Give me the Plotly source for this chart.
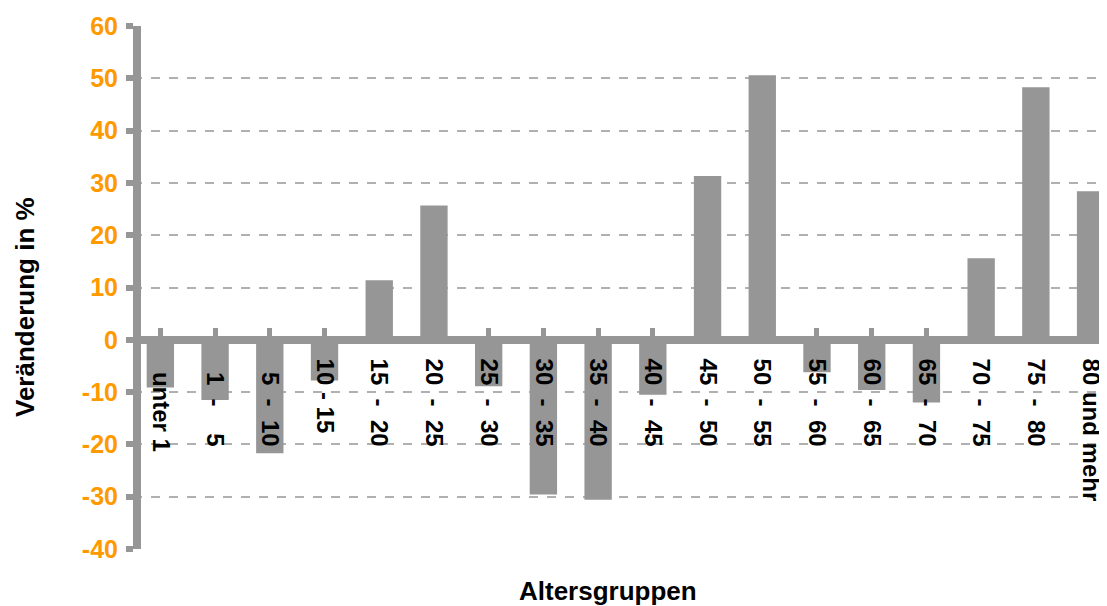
import plotly.graph_objects as go

categories = ["  unter 1", "  1  -    5", "  5  -  10", "10 - 15", "15  -  20", "20  -  25",
              "25  -  30", "30  -  35", "35  -  40", "40  -  45", "45  -  50", "50  -  55",
              "55  -  60", "60  -  65", "65  -  70", "70  -  75", "75  -  80", "80 und mehr"]
values = [-9.1, -11.5, -21.7, -7.8, 11.4, 25.7,
          -8.9, -29.6, -30.6, -10.5, 31.3, 50.6,
          -6.2, -9.6, -12.0, 15.6, 48.3, 28.4]
y_ticks = [-40, -30, -20, -10, 0, 10, 20, 30, 40, 50, 60]
y_ticktext = ["-40", "-30", "-20", "-10", "0", "10", "20", "30", "40", "50", "60"]
x_title = "Altersgruppen"
y_title = "Veränderung in %"

GRAY = "#969696"
ORANGE = "#FF9900"
FONT = "Liberation Sans"

# page body has an 8px default margin; lay out in reference pixels minus that
OFF = 8
W, H = 1107 - OFF, 606 - OFF
L, T = 133 - OFF, 26 - OFF
PH = 523
B = H - T - PH

cats_nbsp = [c.replace(" ", "\u00a0") for c in categories]

fig = go.Figure()
fig.add_trace(go.Bar(x=list(range(len(categories))), y=values,
                     marker=dict(color=GRAY, line=dict(width=0)),
                     width=0.5, showlegend=False))

ymin, ymax = y_ticks[0], y_ticks[-1]
zero_pos = (0 - ymin) / (ymax - ymin)

def px_to_paper_y(py):
    return 1 - (py - OFF - T) / PH

def px_to_paper_x(px):
    return (px - OFF - L) / (W - L)

fig.update_layout(
    width=W, height=H,
    margin=dict(l=L, r=0, t=T, b=B),
    paper_bgcolor="white", plot_bgcolor="white",
    font=dict(family=FONT, size=24, color="black"),
    xaxis=dict(
        range=[-0.5, 17.3],
        tickmode="array",
        tickvals=list(range(len(categories))),
        ticktext=cats_nbsp,
        tickangle=90,
        tickfont=dict(family=FONT, size=24, color="black", weight="bold"),
        anchor="free", position=zero_pos,
        showline=True, linecolor=GRAY, linewidth=8,
        ticks="inside", ticklen=8, tickwidth=5, tickcolor=GRAY,
        tickson="boundaries",
        showgrid=False, zeroline=False,
        ticklabelstandoff=10,
        automargin=False,
    ),
    yaxis=dict(
        range=[ymin, ymax],
        tickmode="array", tickvals=y_ticks, ticktext=y_ticktext,
        tickfont=dict(family=FONT, size=25, color=ORANGE, weight="bold"),
        anchor="free", position=4 / (W - L),
        showline=True, linecolor=GRAY, linewidth=8,
        ticks="outside", ticklen=7, tickwidth=6, tickcolor=GRAY,
        ticklabelstandoff=3,
        showgrid=True, gridcolor="#b0b0b0", griddash="dash", gridwidth=1.5,
        zeroline=False,
        automargin=False,
    ),
    annotations=[
        dict(text=x_title, xref="paper", yref="paper",
             x=px_to_paper_x(608), y=px_to_paper_y(591),
             xanchor="center", yanchor="middle", showarrow=False,
             font=dict(family=FONT, size=26, color="black", weight="bold")),
        dict(text=y_title, xref="paper", yref="paper",
             x=px_to_paper_x(25), y=px_to_paper_y(307),
             xanchor="center", yanchor="middle", textangle=-90, showarrow=False,
             font=dict(family=FONT, size=26, color="black", weight="bold")),
    ],
)

fig.write_html("out.html")
